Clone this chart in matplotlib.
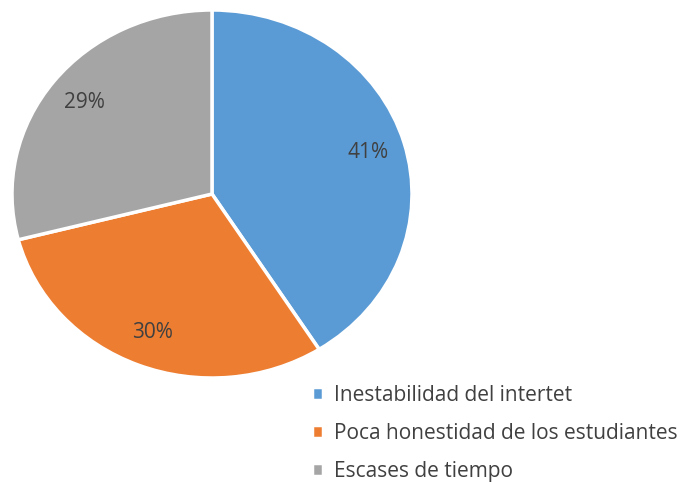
import matplotlib.pyplot as plt

labels = ["Inestabilidad del intertet",
          "Poca honestidad de los estudiantes",
          "Escases de tiempo"]
values = [41, 30, 29]
colors = ["#5B9BD5", "#ED7D31", "#A5A5A5"]

plt.rcParams['font.family'] = ['Open Sans', 'DejaVu Sans']

fig = plt.figure(figsize=(6.92, 4.82), dpi=100)
ax = fig.add_axes([12 / 692, 104 / 482, 400 / 692, 368 / 482])

wedges, texts, autotexts = ax.pie(values, colors=colors, startangle=90,
                                  counterclock=False, autopct='%1.0f%%',
                                  pctdistance=0.81,
                                  wedgeprops=dict(edgecolor='white', linewidth=2.5),
                                  textprops=dict(color='#404040', fontsize=15))
ax.set_aspect('auto')
ax.set_xlim(-1, 1)
ax.set_ylim(-1, 1)

fig.legend(wedges, labels, loc='upper left', bbox_to_anchor=(293 / 692, 116 / 482),
           frameon=False, fontsize=15, handlelength=0.55, handleheight=0.55,
           handletextpad=0.5, labelspacing=0.82, labelcolor='#404040')

fig.savefig('out.png', dpi=100)
